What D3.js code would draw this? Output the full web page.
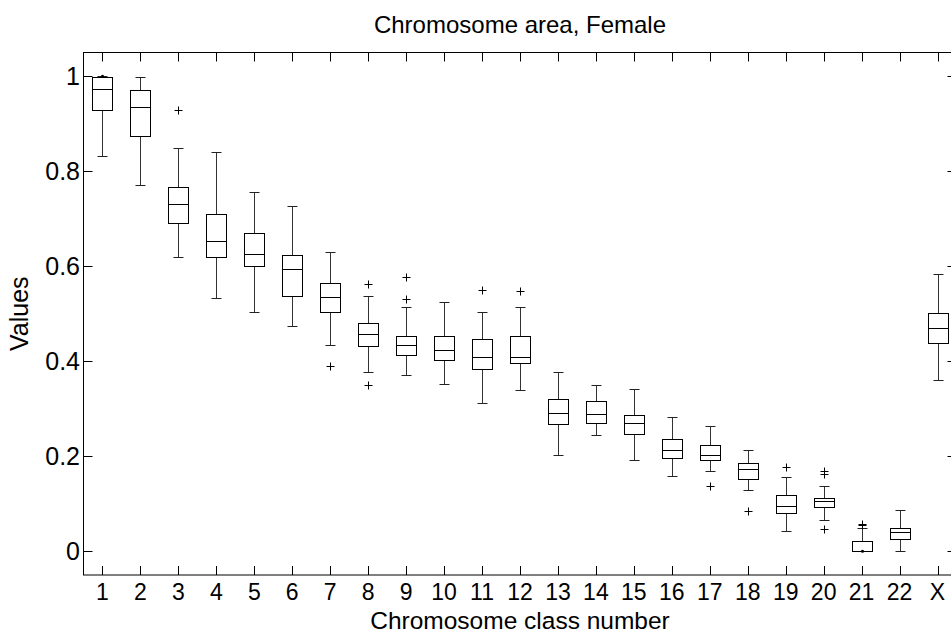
<!DOCTYPE html>
<html>
    <head>
        <meta charset="UTF-8" />
        <script src="https://cdn.jsdelivr.net/npm/d3@7"></script>
        <title>Chromosome area, Female</title>
        <style>
            body {
                margin: 0;
                background: white;
            }
            text {
                font-family: "Liberation Sans", Arial, sans-serif;
                fill: #000;
            }
        </style>
    </head>
    <body>
        <div id="chart"></div>
        <script>
// values, one entry per chromosome class
const categories = ["1","2","3","4","5","6","7","8","9","10","11","12","13","14","15","16","17","18","19","20","21","22","X"];
const upperWhisker = [1.000, 0.999, 0.850, 0.840, 0.756, 0.726, 0.630, 0.537, 0.514, 0.524, 0.504, 0.514, 0.378, 0.350, 0.342, 0.282, 0.264, 0.213, 0.156, 0.138, 0.050, 0.087, 0.584];
const q3 =           [0.999, 0.971, 0.767, 0.709, 0.671, 0.623, 0.565, 0.481, 0.454, 0.454, 0.447, 0.454, 0.320, 0.317, 0.287, 0.237, 0.224, 0.186, 0.118, 0.113, 0.021, 0.050, 0.502];
const medians =      [0.973, 0.936, 0.730, 0.653, 0.625, 0.595, 0.535, 0.457, 0.434, 0.424, 0.410, 0.410, 0.292, 0.288, 0.270, 0.214, 0.203, 0.173, 0.096, 0.105, 0.000, 0.040, 0.471];
const q1 =           [0.928, 0.875, 0.691, 0.620, 0.600, 0.537, 0.504, 0.433, 0.413, 0.403, 0.383, 0.396, 0.267, 0.269, 0.247, 0.196, 0.193, 0.153, 0.080, 0.093, 0.000, 0.025, 0.439];
const lowerWhisker = [0.832, 0.772, 0.620, 0.534, 0.504, 0.474, 0.434, 0.378, 0.372, 0.353, 0.312, 0.340, 0.203, 0.244, 0.192, 0.158, 0.168, 0.130, 0.042, 0.065, 0.000, 0.000, 0.360];
const outliers = [[], [], [0.928], [], [], [], [0.389], [0.563, 0.350], [0.577, 0.530], [], [0.551], [0.547], [], [], [], [], [0.137], [0.084], [0.178], [0.168, 0.163, 0.046], [0.058, 0.055], [], []];
// tiny points sitting on a box edge
const edgeDots = [[0, 1.000], [20, 0.000]];
const yTicks = [0, 0.2, 0.4, 0.6, 0.8, 1];

const w = 951, h = 634;
const mLeft = 83.5, mRight = 956.5, mTop = 52.5, mBottom = 575;
const tickLen = 9;

const svg = d3.select("#chart").append("svg")
    .attr("width", w)
    .attr("height", h);

const x = d3.scaleLinear().domain([0.5, categories.length + 0.5]).range([mLeft, mRight]);
const y = d3.scaleLinear().domain([-0.05, 1.05]).range([mBottom, mTop]);
const boxW = 20, capW = 10;

const data = categories.map((c, i) => ({
    c: c, i: i,
    uw: upperWhisker[i], q3: q3[i], med: medians[i], q1: q1[i], lw: lowerWhisker[i],
    out: outliers[i]
}));

// frame
svg.append("rect")
    .attr("x", mLeft).attr("y", mTop)
    .attr("width", mRight - mLeft).attr("height", mBottom - mTop)
    .attr("fill", "none").attr("stroke", "#000");

// x ticks, bottom and top, pointing in
const xt = svg.append("g");
categories.forEach((c, i) => {
    const px = Math.round(x(i + 1)) + 0.5;
    xt.append("line").attr("x1", px).attr("x2", px).attr("y1", mBottom).attr("y2", mBottom - tickLen).attr("stroke", "#000");
    xt.append("line").attr("x1", px).attr("x2", px).attr("y1", mTop).attr("y2", mTop + tickLen).attr("stroke", "#000");
    xt.append("text")
        .attr("x", x(i + 1)).attr("y", 600)
        .attr("text-anchor", "middle")
        .attr("font-size", "23px")
        .text(c);
});

// y ticks, left and right
const yt = svg.append("g");
yTicks.forEach(v => {
    const py = Math.round(y(v)) + 0.5;
    yt.append("line").attr("x1", mLeft).attr("x2", mLeft + tickLen).attr("y1", py).attr("y2", py).attr("stroke", "#000");
    yt.append("line").attr("x1", mRight).attr("x2", mRight - tickLen).attr("y1", py).attr("y2", py).attr("stroke", "#000");
    yt.append("text")
        .attr("x", 80).attr("y", y(v) + 9)
        .attr("text-anchor", "end")
        .attr("font-size", "25px")
        .text(d3.format("~g")(v));
});

// boxes
const g = svg.append("g");
const px = d => Math.round(x(d.i + 1)) + 0.5;
const py = v => Math.round(y(v)) + 0.5;

// whiskers
g.selectAll(".wu").data(data).enter().append("line")
    .attr("x1", px).attr("x2", px)
    .attr("y1", d => py(d.q3)).attr("y2", d => py(d.uw))
    .attr("stroke", "#333");
g.selectAll(".wl").data(data).enter().append("line")
    .attr("x1", px).attr("x2", px)
    .attr("y1", d => py(d.q1)).attr("y2", d => py(d.lw))
    .attr("stroke", "#333");
// caps
g.selectAll(".cu").data(data).enter().append("line")
    .attr("x1", d => px(d) - capW / 2).attr("x2", d => px(d) + capW / 2)
    .attr("y1", d => py(d.uw)).attr("y2", d => py(d.uw))
    .attr("stroke", "#222");
g.selectAll(".cl").data(data).enter().append("line")
    .attr("x1", d => px(d) - capW / 2).attr("x2", d => px(d) + capW / 2)
    .attr("y1", d => py(d.lw)).attr("y2", d => py(d.lw))
    .attr("stroke", "#222");
// box
g.selectAll(".box").data(data).enter().append("rect")
    .attr("x", d => px(d) - boxW / 2)
    .attr("y", d => py(d.q3))
    .attr("width", boxW)
    .attr("height", d => py(d.q1) - py(d.q3))
    .attr("fill", "none")
    .attr("stroke", "#000");
// median
g.selectAll(".med").data(data).enter().append("line")
    .attr("x1", d => px(d) - boxW / 2).attr("x2", d => px(d) + boxW / 2)
    .attr("y1", d => py(d.med)).attr("y2", d => py(d.med))
    .attr("stroke", "#000");

// outliers as +
const outPts = [];
data.forEach(d => d.out.forEach(v => outPts.push({ i: d.i, v: v })));
const pl = g.selectAll(".out").data(outPts).enter().append("g");
pl.append("line")
    .attr("x1", d => px(d) - 4).attr("x2", d => px(d) + 4)
    .attr("y1", d => py(d.v)).attr("y2", d => py(d.v))
    .attr("stroke", "#000");
pl.append("line")
    .attr("x1", px).attr("x2", px)
    .attr("y1", d => py(d.v) - 4).attr("y2", d => py(d.v) + 4)
    .attr("stroke", "#000");

g.selectAll(".dot").data(edgeDots).enter().append("circle")
    .attr("cx", d => Math.round(x(d[0] + 1)) + 0.5)
    .attr("cy", d => y(d[1]))
    .attr("r", 1.6)
    .attr("fill", "#000");

// title and axis labels
svg.append("text")
    .attr("x", (mLeft + mRight) / 2).attr("y", 33)
    .attr("text-anchor", "middle")
    .attr("font-size", "24px")
    .text("Chromosome area, Female");
svg.append("text")
    .attr("x", (mLeft + mRight) / 2).attr("y", 628.5)
    .attr("text-anchor", "middle")
    .attr("font-size", "24.5px")
    .text("Chromosome class number");
svg.append("text")
    .attr("transform", "translate(28," + ((mTop + mBottom) / 2) + ") rotate(-90)")
    .attr("text-anchor", "middle")
    .attr("font-size", "25px")
    .text("Values");
        </script>
    </body>
</html>
